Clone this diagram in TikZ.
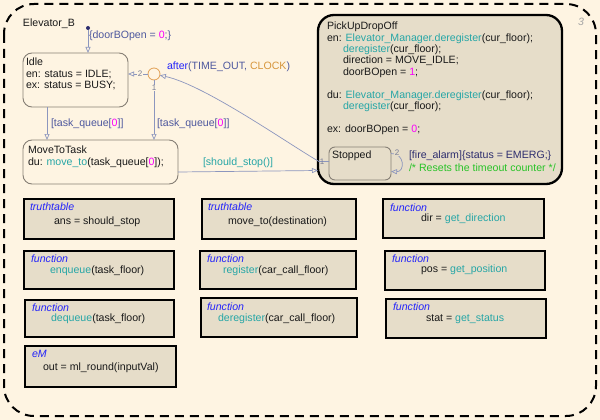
\documentclass[tikz,border=0pt]{standalone}
\usepackage{fontspec}
\setmainfont{Liberation Sans}
\usetikzlibrary{arrows.meta,calc}

\definecolor{bgcream}{RGB}{254,244,226}
\definecolor{boxfill}{RGB}{230,221,201}
\definecolor{ink}{RGB}{25,25,25}
\definecolor{stategray}{RGB}{135,128,118}
\definecolor{transcol}{RGB}{140,150,190}
\definecolor{translbl}{RGB}{78,88,158}
\definecolor{tealfn}{RGB}{38,166,166}
\definecolor{mag}{RGB}{250,0,250}
\definecolor{kwblue}{RGB}{35,35,250}
\definecolor{clockorange}{RGB}{215,150,60}
\definecolor{junccol}{RGB}{225,160,85}
\definecolor{navy}{RGB}{45,45,110}
\definecolor{cmtgreen}{RGB}{40,195,40}
\definecolor{numgray}{RGB}{120,125,150}
\definecolor{chartnum}{RGB}{165,165,165}

\begin{document}
\begin{tikzpicture}[x=1pt,y=-1pt,
  every node/.style={inner sep=0pt,outer sep=0pt},
  base/.style={font=\fontsize{10.6}{11.4}\selectfont, text=ink},
  lbl/.style={base, anchor=west, text height=7.6pt, text depth=2.6pt},
  block/.style={base, anchor=north west, align=left},
  statebox/.style={draw=stategray, line width=0.9pt, fill=bgcream, rounded corners=9pt},
  superbox/.style={draw=black, line width=2.3pt, fill=boxfill, rounded corners=16pt},
  substate/.style={draw=stategray, line width=0.9pt, fill=boxfill, rounded corners=6pt},
  funbox/.style={draw=black, line width=2pt, fill=boxfill},
  trans/.style={draw=transcol, line width=0.7pt, -{Triangle[open,length=6pt,width=5pt]}},
  kind/.style={lbl, font=\fontsize{10.6}{11.4}\selectfont\itshape, text=kwblue},
  tnum/.style={font=\fontsize{8}{8}\selectfont, text=numgray, inner sep=0.6pt},
  chartborder/.style={draw=black, line width=2pt, dash pattern=on 9pt off 6pt, rounded corners=30pt},
]
% canvas
\fill[bgcream] (0,0) rectangle (600,420);
\useasboundingbox (0,0) rectangle (600,420);

% chart frame
\draw[chartborder] (4,4) rectangle (596,416);
\node[lbl, font=\fontsize{10.6}{11.4}\selectfont\itshape, text=chartnum] (chartid) at (578,23) {3};
\node[lbl] (chartname) at (23,24) {Elevator\_B};

% states
\node[statebox, minimum width=105pt, minimum height=54pt] (idle) at (75.5,80) {};
\node[block] (idletxt) at (26,58) {Idle\\en: status = IDLE;\\ex: status = BUSY;};

\node[statebox, minimum width=155pt, minimum height=44pt] (move) at (100.5,162) {};
\node[block] (movetxt) at (28,146) {MoveToTask\\du: {\color{tealfn}move\_to}(task\_queue[{\color{mag}0}]);};

\node[superbox, minimum width=244pt, minimum height=169pt] (pick) at (440,99.5) {};
\node[block] (picktxt) at (327,22) {PickUpDropOff\\
en: {\color{tealfn}Elevator\_Manager.deregister}(cur\_floor);\\
\hspace*{16pt}{\color{tealfn}deregister}(cur\_floor);\\
\hspace*{16pt}direction = MOVE\_IDLE;\\
\hspace*{16pt}doorBOpen = {\color{mag}1};\\[11.4pt]
du: {\color{tealfn}Elevator\_Manager.deregister}(cur\_floor);\\
\hspace*{16pt}{\color{tealfn}deregister}(cur\_floor);\\[11.4pt]
ex: doorBOpen = {\color{mag}0};};

\node[substate, minimum width=62pt, minimum height=33pt] (stopped) at (360,163.5) {};
\node[block] (stoppedtxt) at (332,151) {Stopped};

% junction and default transition
\node[circle, draw=junccol, line width=0.8pt, fill=bgcream, minimum size=12pt] (junc) at (154,74) {};
\node[circle, fill=navy, minimum size=4pt] (dflt) at (88,28) {};

% transitions
\draw[trans] (dflt) -- (dflt |- idle.north);
\node[lbl, text=translbl] (dfltlbl) at (89,36) {\{doorBOpen = {\color{mag}0};\}};

\draw[trans] (junc) -- (junc -| idle.east);
\node[tnum, fill=bgcream] (n2a) at (140,74) {2};
\node[lbl, text=translbl] (afterlbl) at (167,67) {{\color{kwblue}after}(TIME\_OUT, {\color{clockorange}CLOCK})};

\coordinate (idleout) at ([xshift=-28.5pt]idle.south);
\draw[trans] (idleout) -- (idleout |- move.north);
\node[lbl, text=translbl] (tq1) at (51,124) {[task\_queue[{\color{mag}0}]]};

\draw[trans] (junc) -- (junc |- move.north);
\node[tnum, fill=bgcream] (n1a) at (154,88) {1};
\node[lbl, text=translbl] (tq2) at (157,124) {[task\_queue[{\color{mag}0}]]};

\coordinate (moveout) at ([yshift=-10pt]move.east);
\coordinate (pickin) at ([yshift=-71pt]pick.west);
\draw[trans] (moveout) -- (pickin);
\node[lbl, text=tealfn] (stoplbl) at (203,163) {[should\_stop()]};

\coordinate (stopout) at ([yshift=2pt]stopped.west);
\draw[trans] (stopout) -- ++(-10,0) .. controls (290,145) and (205,85) .. (junc);
\node[tnum] (n1b) at (322,162) {1};

\coordinate (selfout) at ([yshift=10pt]stopped.east);
\coordinate (selfin) at ([yshift=-8pt]stopped.east);
\draw[trans] (selfout) .. controls (405,153) and (405,172) .. (selfin);
\node[tnum, fill=boxfill] (n2b) at (397,153) {2};
\node[lbl, text=navy] (firelbl) at (409,156) {[fire\_alarm]\{status = EMERG;\}};
\node[lbl, text=cmtgreen] (cmtlbl) at (409,169) {/* Resets the timeout counter */};

% functions and truth tables
\node[funbox, minimum width=150pt, minimum height=40pt] (b1) at (99,219) {};
\node[kind] (b1k) at (30,208) {truthtable};
\node[lbl] (b1t) at (54,222) {ans = should\_stop};

\node[funbox, minimum width=154pt, minimum height=40pt] (b2) at (279,219) {};
\node[kind] (b2k) at (208,208) {truthtable};
\node[lbl] (b2t) at (228,222) {move\_to(destination)};

\node[funbox, minimum width=161pt, minimum height=39pt] (b3) at (463.5,218.5) {};
\node[kind] (b3k) at (390,209) {function};
\node[lbl] (b3t) at (421,219) {dir = {\color{tealfn}get\_direction}};

\node[funbox, minimum width=150pt, minimum height=38pt] (b4) at (99,270) {};
\node[kind] (b4k) at (31,260) {function};
\node[lbl] (b4t) at (50,271) {{\color{tealfn}enqueue}(task\_floor)};

\node[funbox, minimum width=156pt, minimum height=38pt] (b5) at (278,270) {};
\node[kind] (b5k) at (207,260) {function};
\node[lbl] (b5t) at (223,271) {{\color{tealfn}register}(car\_call\_floor)};

\node[funbox, minimum width=160pt, minimum height=39pt] (b6) at (465,270.5) {};
\node[kind] (b6k) at (392,260) {function};
\node[lbl] (b6t) at (421,270) {pos = {\color{tealfn}get\_position}};

\node[funbox, minimum width=149pt, minimum height=37pt] (b7) at (99.5,318.5) {};
\node[kind] (b7k) at (32,309) {function};
\node[lbl] (b7t) at (51,319) {{\color{tealfn}dequeue}(task\_floor)};

\node[funbox, minimum width=156pt, minimum height=39pt] (b8) at (279,317.5) {};
\node[kind] (b8k) at (207,308) {function};
\node[lbl] (b8t) at (218,319) {{\color{tealfn}deregister}(car\_call\_floor)};

\node[funbox, minimum width=160pt, minimum height=39pt] (b9) at (466,318.5) {};
\node[kind] (b9k) at (393,308) {function};
\node[lbl] (b9t) at (426,319) {stat = {\color{tealfn}get\_status}};

\node[funbox, minimum width=151pt, minimum height=41pt] (b10) at (100.5,366.5) {};
\node[kind] (b10k) at (32,355) {eM};
\node[lbl] (b10t) at (43,368) {out = ml\_round(inputVal)};
\end{tikzpicture}
\end{document}
